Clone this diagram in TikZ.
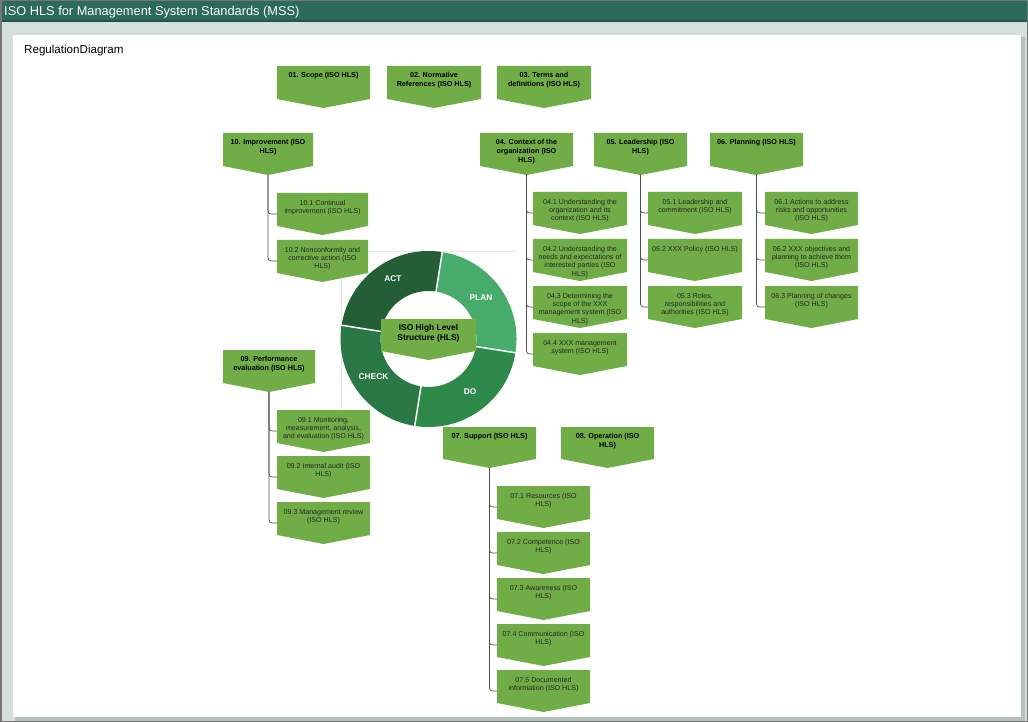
\documentclass[tikz,border=0pt]{standalone}
\usepackage{fontspec}
\setmainfont{Liberation Sans}
\usetikzlibrary{calc}
\definecolor{boxgreen}{HTML}{70AD47}
\definecolor{titlebar}{HTML}{2C6A5B}
\definecolor{titleline}{HTML}{1F5347}
\definecolor{bandbg}{HTML}{D5E0DD}
\definecolor{shadowc}{HTML}{B5C0BD}
\definecolor{borderc}{HTML}{767676}
\definecolor{actc}{HTML}{245E37}
\definecolor{checkc}{HTML}{2A7845}
\definecolor{doc}{HTML}{2E8A4B}
\definecolor{planc}{HTML}{47AB6C}
\definecolor{faint}{HTML}{E8E8E8}
\definecolor{connc}{HTML}{505050}
\tikzset{
  framebox/.style={shape=rectangle, inner sep=0pt, outer sep=0pt, draw=none},
  subtxt/.style={font=\fontsize{7.1}{8.3}\selectfont, align=center, inner sep=0pt, text=black!85, yshift=-3pt},
  hdrtxt/.style={font=\bfseries\fontsize{7.2}{8.8}\selectfont, align=center, inner sep=0pt, text=black, yshift=-2pt},
  hlstxt/.style={font=\bfseries\fontsize{8.4}{10}\selectfont, align=center, inner sep=0pt, text=black, yshift=-1pt},
  seglbl/.style={font=\bfseries\fontsize{8.3}{9}\selectfont, text=white, inner sep=0pt},
  conn/.style={draw=connc, line width=0.7pt, rounded corners=3pt},
}
% name, x, y, width, height, text style, text
\newcommand\cbox[7]{%
  \node[framebox, minimum width=#4pt, minimum height=#5pt, anchor=north west] (#1) at (#2,#3) {};
  \fill[boxgreen] (#1.north west) -- (#1.north east) -- ([yshift=9pt]#1.south east) -- (#1.south) -- ([yshift=9pt]#1.south west) -- cycle;
  \node[#6, anchor=north] (#1-t) at ([yshift=-4pt]#1.north) {#7};
}
\begin{document}
\begin{tikzpicture}[x=1pt,y=-1pt]
\useasboundingbox (0,0) rectangle (1028,722);
% window frame
\fill[bandbg] (0,0) rectangle (1028,722);
\fill[titlebar] (0,0) rectangle (1028,21);
\fill[titleline] (0,20.5) rectangle (1028,22);
\fill[shadowc] (1021,37) rectangle (1025,720);
\fill[shadowc] (15,717) rectangle (1025,720.5);
\fill[white] (13,35) rectangle (1021,717);
\draw[borderc, line width=1.5pt] (0.75,0.75) rectangle (1027.25,721.25);
\node[anchor=base west, text=white, font=\fontsize{12.8}{15}\selectfont, inner sep=0pt] (title) at (4,15.5) {ISO HLS for Management System Standards (MSS)};
\node[anchor=base west, text=black, font=\fontsize{11.6}{13}\selectfont, inner sep=0pt] (diagname) at (24,54) {RegulationDiagram};

% faint chart frame
\draw[faint, line width=0.8pt] (330,251) -- (516,251);
\draw[faint, line width=0.8pt] (341,251) -- (341,425);

% donut
\begin{scope}[shift={(428.5,339)}]
  \fill[planc] (81:88pt) arc[start angle=81, end angle=-9, radius=88pt] -- (-9:48pt) arc[start angle=-9, end angle=81, radius=48pt] -- cycle;
  \fill[doc] (-9:88pt) arc[start angle=-9, end angle=-99, radius=88pt] -- (-99:48pt) arc[start angle=-99, end angle=-9, radius=48pt] -- cycle;
  \fill[checkc] (-99:88pt) arc[start angle=-99, end angle=-189, radius=88pt] -- (-189:48pt) arc[start angle=-189, end angle=-99, radius=48pt] -- cycle;
  \fill[actc] (171:88pt) arc[start angle=171, end angle=81, radius=88pt] -- (81:48pt) arc[start angle=81, end angle=171, radius=48pt] -- cycle;
  \foreach \a in {81,-9,-99,171} \draw[white, line width=1.5pt] (\a:47pt) -- (\a:89pt);
\end{scope}
\node[seglbl] (act) at (393,279) {ACT};
\node[seglbl] (plan) at (481,297.5) {PLAN};
\node[seglbl] (do) at (470,391.5) {DO};
\node[seglbl] (check) at (373.5,376.5) {CHECK};

% center box
\cbox{hls}{381}{319}{95}{41}{hlstxt}{ISO High Level\\Structure (HLS)}

% top row
\cbox{c01}{277}{66}{93}{42}{hdrtxt}{01. Scope (ISO HLS)}
\cbox{c02}{387}{66}{94}{42}{hdrtxt}{02. Normative\\References (ISO HLS)}
\cbox{c03}{497}{66}{94}{42}{hdrtxt}{03. Terms and\\definitions (ISO HLS)}

% level 2
\cbox{c10}{223}{133}{90}{42}{hdrtxt}{10. Improvement (ISO\\HLS)}
\cbox{c04}{480}{133}{93}{42}{hdrtxt}{04. Context of the\\organization (ISO\\HLS)}
\cbox{c05}{594}{133}{93}{42}{hdrtxt}{05. Leadership (ISO\\HLS)}
\cbox{c06}{710}{133}{93}{42}{hdrtxt}{06. Planning (ISO HLS)}
\cbox{c09}{223}{350}{92}{42}{hdrtxt}{09. Performance\\evaluation (ISO HLS)}
\cbox{c07}{443}{427}{93}{41}{hdrtxt}{07. Support (ISO HLS)}
\cbox{c08}{561}{427}{93}{41}{hdrtxt}{08. Operation (ISO\\HLS)}

% 10 children
\cbox{c101}{277}{193}{91}{42}{subtxt}{10.1 Continual\\improvement (ISO HLS)}
\cbox{c102}{277}{240}{91}{42}{subtxt}{10.2 Nonconformity and\\corrective action (ISO\\HLS)}
% 04 children
\cbox{c041}{533}{192}{94}{42}{subtxt}{04.1 Understanding the\\organization and its\\context (ISO HLS)}
\cbox{c042}{533}{239}{94}{42}{subtxt}{04.2 Understanding the\\needs and expectations of\\interested parties (ISO\\HLS)}
\cbox{c043}{533}{286}{94}{42}{subtxt}{04.3 Determining the\\scope of the XXX\\management system (ISO\\HLS)}
\cbox{c044}{533}{333}{94}{42}{subtxt}{04.4 XXX management\\system (ISO HLS)}
% 05 children
\cbox{c051}{648}{192}{94}{42}{subtxt}{05.1 Leadership and\\commitment (ISO HLS)}
\cbox{c052}{648}{239}{94}{42}{subtxt}{05.2 XXX Policy (ISO HLS)}
\cbox{c053}{648}{286}{94}{42}{subtxt}{05.3 Roles,\\responsibilities and\\authorities (ISO HLS)}
% 06 children
\cbox{c061}{765}{192}{93}{42}{subtxt}{06.1 Actions to address\\risks and opportunities\\(ISO HLS)}
\cbox{c062}{765}{239}{93}{42}{subtxt}{06.2 XXX objectives and\\planning to achieve them\\(ISO HLS)}
\cbox{c063}{765}{286}{93}{42}{subtxt}{06.3 Planning of changes\\(ISO HLS)}
% 09 children
\cbox{c091}{277}{410}{93}{42}{subtxt}{09.1 Monitoring,\\measurement, analysis,\\and evaluation (ISO HLS)}
\cbox{c092}{277}{456}{93}{42}{subtxt}{09.2 Internal audit (ISO\\HLS)}
\cbox{c093}{277}{502}{93}{42}{subtxt}{09.3 Management review\\(ISO HLS)}
% 07 children
\cbox{c071}{497}{486}{93}{42}{subtxt}{07.1 Resources (ISO\\HLS)}
\cbox{c072}{497}{532}{93}{42}{subtxt}{07.2 Competence (ISO\\HLS)}
\cbox{c073}{497}{578}{93}{42}{subtxt}{07.3 Awareness (ISO\\HLS)}
\cbox{c074}{497}{624}{93}{42}{subtxt}{07.4 Communication (ISO\\HLS)}
\cbox{c075}{497}{670}{93}{42}{subtxt}{07.5 Documented\\information (ISO HLS)}

% connectors
\foreach \c in {c101,c102} \draw[conn] (c10.south) |- (\c.west);
\foreach \c in {c041,c042,c043,c044} \draw[conn] (c04.south) |- (\c.west);
\foreach \c in {c051,c052,c053} \draw[conn] (c05.south) |- (\c.west);
\foreach \c in {c061,c062,c063} \draw[conn] (c06.south) |- (\c.west);
\foreach \c in {c091,c092,c093} \draw[conn] (c09.south) |- (\c.west);
\foreach \c in {c071,c072,c073,c074,c075} \draw[conn] (c07.south) |- (\c.west);
\end{tikzpicture}
\end{document}
